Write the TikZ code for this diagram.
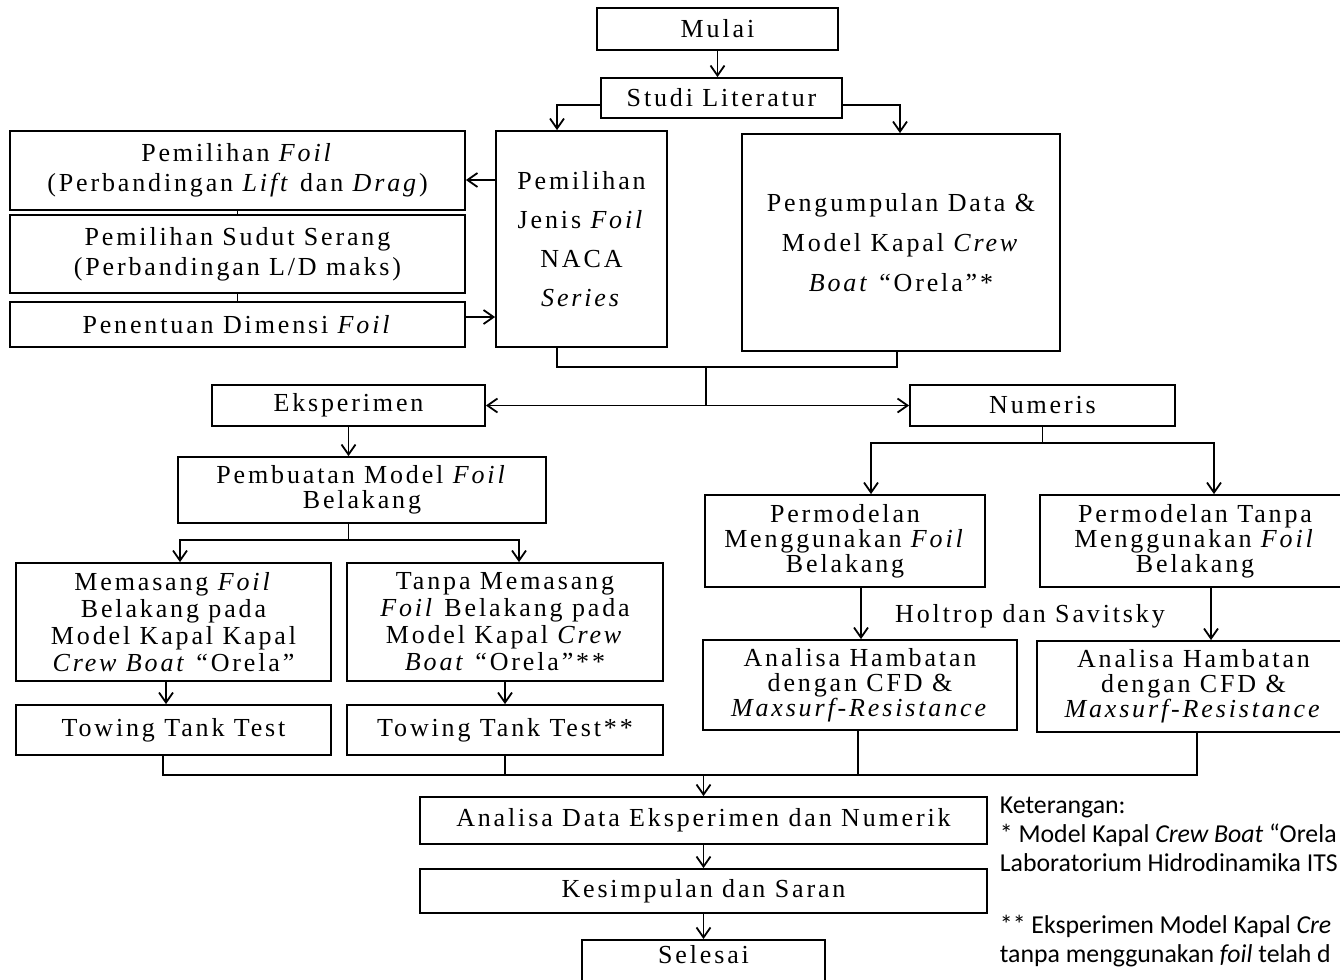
\documentclass[tikz,border=0pt]{standalone}
\usepackage{fontspec}
\setmainfont{Liberation Serif}[LetterSpace=11.0]
\newfontfamily\notefont{Carlito}
\usetikzlibrary{arrows.meta}
\tikzset{
  box/.style={draw, line width=0.9pt, align=center, inner sep=0pt, font=\fontsize{13}{13.5}\selectfont},
}
\begin{document}
\begin{tikzpicture}[x=0.5pt, y=-0.5pt, >={Straight Barb[length=5pt,width=7pt]}, line width=0.9pt]
\useasboundingbox (0,0) rectangle (1340,980);
% top part
\node[box, minimum width=120.5pt, minimum height=21pt] (mulai) at (717.5,29) {Mulai};
\node[box, minimum width=120.5pt, minimum height=20pt] (studi) at (721.5,98) {Studi Literatur};
\node[box, minimum width=85.5pt, minimum height=108pt, font=\fontsize{13}{19.5}\selectfont] (jenis) at (581.5,239) {Pemilihan\\Jenis \textit{Foil}\\NACA\\\textit{Series}};
\node[box, minimum width=159pt, minimum height=108.5pt, font=\fontsize{13}{20}\selectfont] (kumpul) at (901,242.5) {Pengumpulan Data \&\\Model Kapal \textit{Crew}\\\textit{Boat} “Orela”*};
\node[box, minimum width=227.5pt, minimum height=39.5pt, font=\fontsize{13}{15}\selectfont] (pfoil) at (237.5,170.5) {Pemilihan \textit{Foil}\\(Perbandingan \textit{Lift} dan \textit{Drag})};
\node[box, minimum width=227.5pt, minimum height=39pt, font=\fontsize{13}{15}\selectfont] (sudut) at (237.5,254) {Pemilihan Sudut Serang\\(Perbandingan L/D maks)};
\node[box, minimum width=227.5pt, minimum height=22.5pt] (dimensi) at (237.5,324.5) {Penentuan Dimensi \textit{Foil}};
\draw[->] (mulai) -- (mulai |- studi.north);
\draw[->] ([yshift=-3.5pt]studi.west) -| ([xshift=-12.25pt]jenis.north);
\draw[->] ([yshift=-3.5pt]studi.east) -| ([xshift=-0.5pt]kumpul.north);
\draw (pfoil.south) -- (sudut.north);
\draw (sudut.south) -- (dimensi.north);
\draw[->] ([yshift=-4.75pt]pfoil.east -| jenis.west) -- ([yshift=-4.75pt]pfoil.east);
\draw[->] ([yshift=3.75pt]dimensi.east) -- ([yshift=3.75pt]dimensi.east -| jenis.west);
% eksperimen and numeris
\node[box, minimum width=136.5pt, minimum height=20.5pt] (eksp) at (348.5,405.5) {Eksperimen};
\node[box, minimum width=132.5pt, minimum height=20.5pt] (numeris) at (1042.5,405.5) {Numeris};
\coordinate (pisah) at (706,367);
\coordinate (cabang) at (706,405.5);
\draw ([xshift=-12.25pt]jenis.south) |- (pisah) -| ([xshift=-2pt]kumpul.south);
\draw (pisah) -- (cabang);
\draw[->] (cabang) -- (eksp);
\draw[->] (cabang) -- (numeris);
% experiment side
\node[box, minimum width=184pt, minimum height=33pt, font=\fontsize{13}{12.5}\selectfont] (pembuatan) at (362,490) {Pembuatan Model \textit{Foil}\\Belakang};
\node[box, minimum width=157.5pt, minimum height=59pt] (memasang) at (173.5,622) {Memasang \textit{Foil}\\Belakang pada\\Model Kapal Kapal\\\textit{Crew Boat} “Orela”};
\node[box, minimum width=158pt, minimum height=59pt] (tanpa) at (505,622) {Tanpa Memasang\\\textit{Foil} Belakang pada\\Model Kapal \textit{Crew}\\\textit{Boat} “Orela”**};
\node[box, minimum width=157.5pt, minimum height=25pt] (tow1) at (173.5,730) {Towing Tank Test};
\node[box, minimum width=158pt, minimum height=25pt] (tow2) at (505,730) {Towing Tank Test**};
\coordinate (bagi) at (348.5,540);
\draw[->] (eksp) -- (eksp |- pembuatan.north);
\draw (eksp |- pembuatan.south) -- (bagi);
\draw[->] (bagi) -| ([xshift=3.25pt]memasang.north);
\draw[->] (bagi) -| ([xshift=7pt]tanpa.north);
\draw[->] ([xshift=-3.75pt]memasang.south) -- ([xshift=-3.75pt]tow1.north);
\draw[->] (tanpa) -- (tow2);
% numerical side
\node[box, minimum width=140pt, minimum height=46pt, font=\fontsize{13}{12.5}\selectfont] (pmfoil) at (845,541) {Permodelan\\Menggunakan \textit{Foil}\\Belakang};
\node[box, minimum width=155pt, minimum height=46pt, font=\fontsize{13}{12.5}\selectfont] (pmtanpa) at (1195,541) {Permodelan Tanpa\\Menggunakan \textit{Foil}\\Belakang};
\node[box, minimum width=157pt, minimum height=45pt, font=\fontsize{13}{12.5}\selectfont] (ahfoil) at (860,685) {Analisa Hambatan\\dengan CFD \&\\\textit{Maxsurf-Resistance}};
\node[box, minimum width=156.5pt, minimum height=45.5pt, font=\fontsize{13}{12.5}\selectfont] (ahtanpa) at (1193.5,686.5) {Analisa Hambatan\\dengan CFD \&\\\textit{Maxsurf-Resistance}};
\node[font=\fontsize{13}{13.5}\selectfont, inner sep=0pt] (holtrop) at (1030,616) {Holtrop dan Savitsky};
\coordinate (bagi2) at (1042.5,443);
\draw (numeris) -- (bagi2);
\draw[->] (bagi2) -| ([xshift=13pt]pmfoil.north);
\draw[->] (bagi2) -| ([xshift=9.5pt]pmtanpa.north);
\draw[->] ([xshift=8pt]pmfoil.south) -- ([xshift=8pt]pmfoil.south |- ahfoil.north);
\draw[->] ([xshift=8pt]pmtanpa.south) -- ([xshift=8pt]pmtanpa.south |- ahtanpa.north);
% closing part
\node[box, minimum width=283.5pt, minimum height=23.5pt] (adata) at (703.5,820.5) {Analisa Data Eksperimen dan Numerik};
\node[box, minimum width=283.5pt, minimum height=22pt] (simpul) at (703.5,891) {Kesimpulan dan Saran};
\node[box, minimum width=121.5pt, anchor=north, text height=12pt, text depth=20pt] (selesai) at (703.5,939) {Selesai};
\coordinate (gabung) at (703.5,775);
\draw ([xshift=-5.25pt]tow1.south) |- (gabung) -| ([xshift=1.75pt]ahtanpa.south);
\draw (tow2) -- (tow2 |- gabung);
\draw ([xshift=-1pt]ahfoil.south) -- ([xshift=-1pt]ahfoil.south |- gabung);
\draw[->] (gabung) -- (adata);
\draw[->] (adata) -- (simpul);
\draw[->] (simpul) -- (selesai);
% notes
\node[anchor=north west, align=left, inner sep=0pt, font=\notefont\fontsize{12.9}{14.5}\selectfont] (catatan) at (999,796) {Keterangan:\\* Model Kapal \textit{Crew Boat} “Orela\\Laboratorium Hidrodinamika ITS\\[16.5pt]** Eksperimen Model Kapal \textit{Cre}\\tanpa menggunakan \textit{foil} telah d};
\end{tikzpicture}
\end{document}
